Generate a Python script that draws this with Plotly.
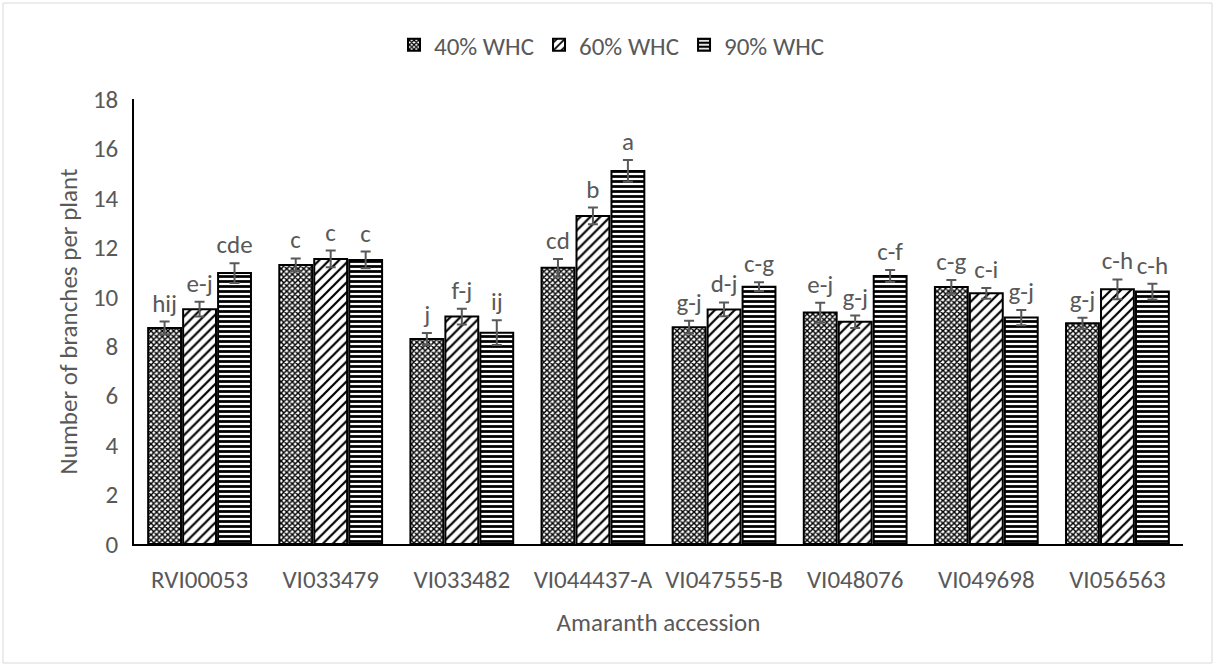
import plotly.graph_objects as go

accessions = ["RVI00053", "VI033479", "VI033482", "VI044437-A",
              "VI047555-B", "VI048076", "VI049698", "VI056563"]
series_names = ["40% WHC", "60% WHC", "90% WHC"]

whc40 = [8.74, 11.29, 8.29, 11.17, 8.77, 9.36, 10.40, 8.93]
whc60 = [9.50, 11.53, 9.20, 13.27, 9.49, 8.99, 10.14, 10.30]
whc90 = [10.96, 11.49, 8.55, 15.09, 10.41, 10.84, 9.16, 10.21]

err40 = [0.26, 0.26, 0.24, 0.36, 0.26, 0.40, 0.28, 0.22]
err60 = [0.30, 0.34, 0.32, 0.34, 0.28, 0.25, 0.22, 0.40]
err90 = [0.40, 0.34, 0.50, 0.44, 0.18, 0.24, 0.31, 0.32]

letters40 = ["hij", "c", "j", "cd", "g-j", "e-j", "c-g", "g-j"]
letters60 = ["e-j", "c", "f-j", "b", "d-j", "g-j", "c-i", "c-h"]
letters90 = ["cde", "c", "ij", "a", "c-g", "c-f", "g-j", "c-h"]

y_ticks = [0, 2, 4, 6, 8, 10, 12, 14, 16, 18]

FONT = "Calibri, Carlito, Lato, sans-serif"
FS = 25
GRAY = "#595959"

patterns = [
    dict(shape="x", size=4, solidity=0.6),
    dict(shape="/", size=7, solidity=0.32),
    dict(shape="-", size=5, solidity=0.55),
]

fig = go.Figure()
data = [(whc40, err40, letters40), (whc60, err60, letters60), (whc90, err90, letters90)]

for i, (vals, errs, labs) in enumerate(data):
    p = patterns[i]
    fig.add_trace(go.Bar(
        x=accessions, y=vals, name=series_names[i], offsetgroup=f"g{i}",
        marker=dict(color="white",
                    line=dict(color="black", width=2),
                    pattern=dict(shape=p["shape"], size=p["size"], solidity=p["solidity"],
                                 fgcolor="black", bgcolor="white", fillmode="replace")),
        error_y=dict(type="data", array=errs, visible=True, color=GRAY,
                     thickness=2, width=5),
        hoverinfo="skip",
    ))

for i, (vals, errs, labs) in enumerate(data):
    fig.add_trace(go.Bar(
        x=accessions, y=[v + e for v, e in zip(vals, errs)], offsetgroup=f"g{i}",
        marker=dict(color="rgba(0,0,0,0)", line=dict(width=0)),
        text=labs, textposition="outside", textangle=0, constraintext="none",
        cliponaxis=False,
        textfont=dict(family=FONT, size=FS, color=GRAY),
        showlegend=False, hoverinfo="skip",
    ))

W, H = 1217, 666
L, R, T, B = 134, 34, 99, 122
pw, ph = W - L - R, H - T - B

fig.update_layout(
    width=W, height=H,
    margin=dict(l=L, r=R, t=T, b=B),
    paper_bgcolor="white", plot_bgcolor="white",
    barmode="group", bargap=0.2, bargroupgap=0.06,
    font=dict(family=FONT, size=FS, color=GRAY),
    hovermode=False,
    legend=dict(orientation="h", x=(612 - L) / pw, xanchor="center",
                y=(H - B - 45) / ph, yanchor="middle",
                font=dict(family=FONT, size=FS, color=GRAY),
                itemwidth=30, traceorder="normal"),
    xaxis=dict(showline=True, linecolor="black", linewidth=1.5,
               ticks="outside", ticklen=12, tickcolor="rgba(0,0,0,0)",
               showgrid=False, zeroline=False,
               title=dict(text="Amaranth accession", standoff=20,
                          font=dict(family=FONT, size=FS, color=GRAY))),
    yaxis=dict(range=[0, 18], tickvals=y_ticks, showline=True, linecolor="black",
               linewidth=1.5, ticks="outside", ticklen=9, tickcolor="rgba(0,0,0,0)",
               showgrid=False, zeroline=False,
               title=dict(text="Number of branches per plant", standoff=8,
                          font=dict(family=FONT, size=FS, color=GRAY))),
    shapes=[dict(type="rect", xref="paper", yref="paper",
                 x0=(3 - L) / pw, x1=(1212 - L) / pw,
                 y0=(H - B - 663) / ph, y1=(H - B - 3) / ph,
                 line=dict(color="#D9D9D9", width=1), fillcolor="rgba(0,0,0,0)",
                 layer="below")],
)

fig.write_html("out.html")
